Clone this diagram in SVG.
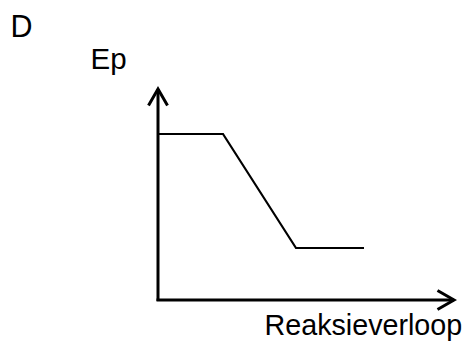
<svg xmlns="http://www.w3.org/2000/svg" width="468" height="341" viewBox="0 0 468 341">
<style>
text{font-family:"Liberation Sans",Arial,sans-serif;font-size:28.7px;fill:#000}
.ax{stroke:#000;stroke-width:3;fill:none}
.cv{stroke:#000;stroke-width:2.2;fill:none;stroke-linejoin:miter}
</style>
<rect width="468" height="341" fill="#fff"/>
<g id="label-D"><text x="10.5" y="37" style="font-size:30.5px">D</text></g>
<g id="axis-y"><line class="ax" x1="158" y1="89" x2="158" y2="301"/><polyline class="ax" points="148.5,105.5 158,89 167.5,105.5"/><text x="90.5" y="69" style="font-size:29.5px">Ep</text></g>
<g id="axis-x"><line class="ax" x1="156.5" y1="300" x2="454" y2="300"/><polyline class="ax" points="437.5,290.5 454,300 437.5,309.5"/><text x="264.5" y="335">Reaksieverloop</text></g>
<g id="connectors"><polyline class="cv" points="158,134 223,134 296,248 364,248"/></g>
</svg>
